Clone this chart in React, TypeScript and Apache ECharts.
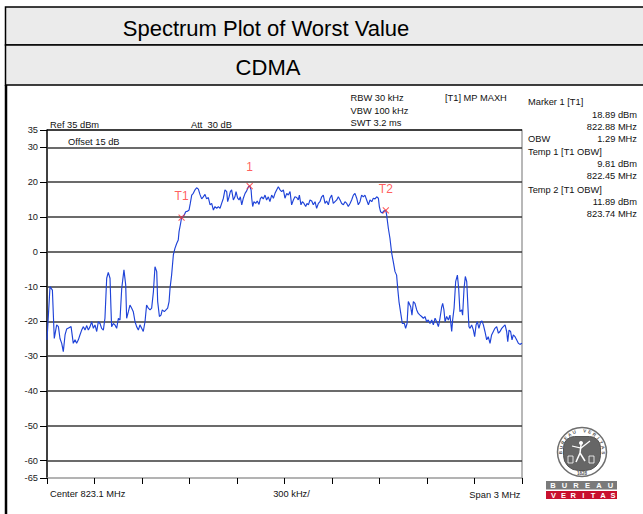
import React, { useEffect, useRef } from "react";
import * as echarts from "echarts";

// ---- data ----
const freqMHz = [
  821.600, 821.619, 821.634, 821.646, 821.661, 821.672, 821.682, 821.693, 821.703, 821.714,
  821.724, 821.739, 821.752, 821.766, 821.777, 821.787, 821.798, 821.808, 821.819, 821.830,
  821.840, 821.851, 821.861, 821.872, 821.882, 821.893, 821.903, 821.914, 821.924, 821.935,
  821.945, 821.956, 821.966, 821.977, 821.987, 821.998, 822.004, 822.008, 822.019, 822.029,
  822.040, 822.051, 822.061, 822.072, 822.086, 822.097, 822.103, 822.114, 822.124, 822.135,
  822.145, 822.156, 822.166, 822.177, 822.187, 822.198, 822.208, 822.219, 822.229, 822.240,
  822.251, 822.261, 822.272, 822.282, 822.293, 822.299, 822.310, 822.320, 822.328, 822.341,
  822.362, 822.371, 822.377, 822.387, 822.398, 822.408, 822.419, 822.429, 822.434, 822.444,
  822.450, 822.467, 822.476, 822.489, 822.497, 822.505, 822.514, 822.524, 822.535, 822.545,
  822.556, 822.566, 822.577, 822.587, 822.598, 822.608, 822.619, 822.630, 822.640, 822.651,
  822.661, 822.672, 822.682, 822.693, 822.703, 822.714, 822.724, 822.735, 822.741, 822.750,
  822.758, 822.766, 822.777, 822.787, 822.794, 822.804, 822.813, 822.821, 822.830, 822.840,
  822.851, 822.861, 822.872, 822.880, 822.889, 822.893, 822.899, 822.907, 822.918, 822.928,
  822.939, 822.947, 822.956, 822.966, 822.977, 822.987, 822.998, 823.008, 823.019, 823.030,
  823.040, 823.051, 823.061, 823.072, 823.082, 823.093,
  823.103, 823.114, 823.124, 823.135, 823.145, 823.156, 823.166, 823.177, 823.187, 823.194,
  823.204, 823.213, 823.223, 823.234, 823.242, 823.251, 823.261, 823.272, 823.282, 823.293,
  823.303, 823.314, 823.324, 823.335, 823.345, 823.356, 823.366, 823.377, 823.387, 823.398,
  823.408, 823.419, 823.430, 823.440, 823.451, 823.461, 823.472, 823.482, 823.493, 823.503,
  823.514, 823.524, 823.535, 823.545, 823.556, 823.566, 823.577, 823.587, 823.598, 823.608,
  823.619, 823.630, 823.640, 823.651, 823.661, 823.672, 823.682, 823.693, 823.699, 823.707,
  823.718, 823.726, 823.740, 823.745, 823.756, 823.766, 823.777, 823.787, 823.798, 823.808,
  823.815, 823.823, 823.836, 823.844, 823.857, 823.865, 823.874, 823.882,
  823.897, 823.905, 823.914, 823.924, 823.935, 823.945, 823.956, 823.966, 823.977, 823.987,
  823.998, 824.008, 824.019, 824.030, 824.040, 824.051, 824.061, 824.072, 824.082, 824.093,
  824.099, 824.107, 824.114, 824.124, 824.135, 824.145, 824.156, 824.162, 824.171, 824.181,
  824.192, 824.200, 824.208, 824.219, 824.225, 824.234, 824.242, 824.251, 824.259, 824.265,
  824.272, 824.282, 824.293, 824.301, 824.310, 824.318, 824.328, 824.339, 824.347, 824.356,
  824.366, 824.377, 824.387, 824.398, 824.408, 824.419, 824.429, 824.440, 824.451, 824.461,
  824.472, 824.482, 824.493, 824.503, 824.510, 824.518, 824.528, 824.537, 824.545, 824.556,
  824.566, 824.577, 824.587, 824.600,
];

const levelDbm = [
  -25.3, -10.0, -11.0, -24.9, -21.0, -21.5, -24.9, -26.3, -28.7, -23.9,
  -22.2, -21.8, -21.5, -26.3, -25.3, -26.3, -25.3, -23.9, -22.5, -21.5,
  -22.5, -21.2, -22.5, -21.5, -20.1, -22.0, -21.0, -22.9, -20.1, -20.6,
  -22.0, -22.5, -19.1, -7.6, -5.9, -7.6, -16.2, -21.5, -20.6, -21.0,
  -22.0, -19.1, -19.6, -10.5, -5.2, -9.5, -19.1, -17.2, -15.3, -16.2,
  -17.2, -20.1, -21.5, -22.5, -21.0, -22.0, -22.9, -20.1, -15.3, -16.2,
  -16.7, -16.2, -11.5, -4.3, -5.7, -14.3, -18.6, -18.2, -16.7, -17.2,
  -16.2, -14.3, -10.5, -6.7, -0.9, 1.0, 2.4, 3.4, 5.8, 8.2,
  9.81, 10.6, 11.5, 11.7, 12.0, 13.9, 16.3, 16.8, 17.8, 18.4,
  18.0, 16.5, 15.2, 15.8, 16.5, 15.2, 15.6, 13.5, 13.9, 12.0,
  13.0, 12.5, 13.0, 12.5, 13.9, 15.4, 17.8, 17.3, 14.4, 15.8,
  17.3, 17.8, 14.9, 15.8, 17.3, 15.4, 14.9, 15.8, 13.5, 15.4,
  16.8, 17.5, 18.7, 18.89, 17.8, 15.4, 13.0, 14.4, 13.9, 14.6,
  13.6, 15.2, 15.8, 15.2, 16.3, 14.9, 15.8, 14.4, 16.3, 15.4,
  16.8, 17.8, 18.7, 17.8, 17.3, 17.8,
  15.4, 16.8, 16.3, 17.3, 13.5, 14.9, 15.8, 15.6, 14.9, 16.3,
  13.5, 14.4, 13.9, 13.0, 13.9, 13.5, 14.9, 14.6, 13.5, 14.4,
  12.5, 13.9, 14.4, 15.8, 16.3, 13.9, 14.6, 13.5, 15.4, 16.3,
  13.9, 14.4, 14.9, 15.8, 14.9, 13.9, 13.5, 14.4, 13.9, 13.0,
  13.9, 14.9, 16.3, 16.8, 15.4, 13.5, 14.4, 16.3, 15.8, 16.3,
  14.9, 13.5, 14.9, 14.4, 15.4, 15.2, 15.8, 15.4, 13.0, 11.5,
  11.1, 11.7, 11.89, 10.6, 6.7, 3.9, -0.4, -2.8, -5.7, -6.7,
  -10.5, -14.3, -18.2, -20.6, -20.6, -22.0, -20.6, -14.3,
  -15.8, -18.2, -14.3, -14.8, -16.7, -17.7, -18.2, -18.6, -19.1, -18.6,
  -20.1, -19.6, -20.6, -19.6, -21.0, -19.1, -20.1, -21.5, -19.1, -15.8,
  -14.8, -16.7, -20.1, -18.6, -19.6, -18.2, -22.9, -19.6, -16.2, -8.6,
  -6.7, -10.5, -17.2, -16.7, -18.2, -10.5, -7.1, -8.6, -16.2, -21.5,
  -22.0, -21.0, -22.5, -24.4, -21.0, -20.1, -22.0, -20.1, -19.9, -21.0,
  -22.9, -25.3, -24.4, -26.3, -23.9, -22.9, -22.0, -21.5, -23.4, -22.9,
  -22.0, -21.5, -21.0, -22.9, -25.8, -22.5, -22.9, -25.3, -23.9, -24.4,
  -25.3, -26.3, -26.6, -26.3,
];

const centerMHz = 823.1;
const halfSpanKHz = 1500;
const divKHz = 300;
const refLevel = 35;
const bottomLevel = -65;
const yTickValues = [35, 30, 20, 10, 0, -10, -20, -30, -40, -50, -60, -65];
const gridLevels = [30, 20, 10, 0, -10, -20, -30, -40, -50, -60];

const markerNames = ["1", "T1", "T2"];
const markerFreqs = [822.88, 822.45, 823.74];
const markerLevels = [18.89, 9.81, 11.89];

const titleText = "Spectrum Plot of Worst Value";
const subTitleText = "CDMA";

const FONT = "'Liberation Sans', Arial, Helvetica, sans-serif";
const MARK_RED = "#ff3434";

function txt(text: string, x: number, y: number, align = "left", size = 9.3, fill = "#111", extra: any = {}) {
  return {
    type: "text",
    x,
    y,
    silent: true,
    z: 10,
    style: {
      text,
      fill,
      fontSize: size,
      fontFamily: FONT,
      textAlign: align,
      align,
      textVerticalAlign: "middle",
      verticalAlign: "middle",
      ...extra,
    },
  };
}

function logoElements(): any[] {
  const cx = 582;
  const cy = 452;
  const els: any[] = [];
  els.push({ type: "ellipse", shape: { cx, cy, rx: 24.5, ry: 24.5 }, style: { fill: "#fff", stroke: "#6e6e6e", lineWidth: 1.5 }, z: 5, silent: true });
  els.push({ type: "rect", shape: { x: 563.5, y: 436.5, width: 37, height: 34, r: [11, 11, 15, 15] }, style: { fill: "#666", stroke: "#555", lineWidth: 1 }, z: 6, silent: true });
  els.push({ type: "circle", shape: { cx: 581, cy: 443, r: 2 }, style: { fill: "#fff" }, z: 7, silent: true });
  els.push({ type: "polyline", shape: { points: [[581, 445], [580, 453], [576, 462]] }, style: { stroke: "#fff", lineWidth: 1.5, fill: "none" }, z: 7, silent: true });
  els.push({ type: "polyline", shape: { points: [[580, 453], [585, 461]] }, style: { stroke: "#fff", lineWidth: 1.5, fill: "none" }, z: 7, silent: true });
  els.push({ type: "polyline", shape: { points: [[572, 446], [581, 448], [590, 441]] }, style: { stroke: "#fff", lineWidth: 1.2, fill: "none" }, z: 7, silent: true });
  els.push({ type: "rect", shape: { x: 568, y: 456, width: 5, height: 7 }, style: { fill: "none", stroke: "#fff", lineWidth: 0.8 }, z: 7, silent: true });
  els.push({ type: "rect", shape: { x: 589, y: 456, width: 5, height: 7 }, style: { fill: "none", stroke: "#fff", lineWidth: 0.8 }, z: 7, silent: true });
  const ring = "BUREAU VERITAS";
  const r = 21.2;
  for (let i = 0; i < ring.length; i++) {
    const deg = 178 + (i * (362 - 178)) / (ring.length - 1);
    const th = (deg * Math.PI) / 180;
    els.push({
      type: "text",
      x: cx + r * Math.cos(th),
      y: cy + r * Math.sin(th),
      rotation: (-(deg - 270) * Math.PI) / 180,
      silent: true,
      z: 7,
      style: { text: ring[i], fill: "#555", fontSize: 4.6, fontWeight: "bold", fontFamily: FONT, textAlign: "center", align: "center", textVerticalAlign: "middle", verticalAlign: "middle" },
    });
  }
  els.push(txt("1828", cx, cy + 21.5, "center", 4.6, "#555", { fontWeight: "bold" }));
  els.push({ type: "rect", shape: { x: 546, y: 481, width: 71, height: 8.5 }, style: { fill: "#7a7a7a" }, z: 5, silent: true });
  els.push({ type: "rect", shape: { x: 546, y: 491, width: 71, height: 8 }, style: { fill: "#c8102e" }, z: 5, silent: true });
  const w1 = "BUREAU";
  for (let i = 0; i < w1.length; i++) {
    els.push(txt(w1[i], 553 + i * 11.5, 485.4, "center", 7.5, "#fff", { fontWeight: "bold" }));
  }
  const w2 = "VERITAS";
  for (let i = 0; i < w2.length; i++) {
    els.push(txt(w2[i], 553.5 + i * 9.9, 495.2, "center", 7.5, "#fff", { fontWeight: "bold" }));
  }
  return els;
}

export default function App() {
  const ref = useRef<HTMLDivElement>(null);

  useEffect(() => {
    document.body.style.margin = "0";
    if (!ref.current) return;
    const chart = echarts.init(ref.current, undefined, { renderer: "svg" });

    const trace = freqMHz.map((f, i) => [(f - centerMHz) * 1000, levelDbm[i]]);
    const markers = markerNames.map((n, i) => ({
      name: n,
      value: [(markerFreqs[i] - centerMHz) * 1000, markerLevels[i]],
      label: { distance: n === "1" ? 7.5 : 10 },
    }));

    const graphics: any[] = [
      { type: "rect", shape: { x: 5.5, y: 7, width: 720, height: 38 }, style: { fill: "#ebebeb", stroke: "#000", lineWidth: 1.5 }, z: 1, silent: true },
      { type: "rect", shape: { x: 5.5, y: 45, width: 720, height: 40 }, style: { fill: "#ebebeb", stroke: "#000", lineWidth: 1.5 }, z: 1, silent: true },
      { type: "line", shape: { x1: 6, y1: 85, x2: 6, y2: 520 }, style: { stroke: "#000", lineWidth: 2.5 }, z: 2, silent: true },
      txt(titleText, 266, 28, "center", 22, "#000"),
      txt(subTitleText, 268, 67, "center", 22, "#000"),
      txt("Ref 35 dBm", 50, 124.5),
      txt("Att  30 dB", 191, 124.5),
      txt("Offset 15 dB", 68, 142),
      txt("RBW 30 kHz", 350.5, 98),
      txt("VBW 100 kHz", 350.5, 110.5),
      txt("SWT 3.2 ms", 350.5, 123),
      txt("[T1] MP MAXH", 445, 98),
      txt("Marker 1 [T1]", 528, 102),
      txt("18.89 dBm", 637, 114.5, "right"),
      txt("822.88 MHz", 637, 127, "right"),
      txt("OBW", 528, 139),
      txt("1.29 MHz", 637, 139, "right"),
      txt("Temp 1 [T1 OBW]", 528, 151.5),
      txt("9.81 dBm", 637, 164, "right"),
      txt("822.45 MHz", 637, 176, "right"),
      txt("Temp 2 [T1 OBW]", 528, 189.5),
      txt("11.89 dBm", 637, 201.5, "right"),
      txt("823.74 MHz", 637, 213.5, "right"),
      txt("Center 823.1 MHz", 50, 494),
      txt("300 kHz/", 291.5, 494, "center"),
      txt("Span 3 MHz", 520.5, 494.5, "right"),
      ...logoElements(),
    ];

    chart.setOption({
      animation: false,
      backgroundColor: "#fff",
      textStyle: { fontFamily: FONT },
      grid: { left: 47, right: 121, top: 130, bottom: 36, containLabel: false, outerBoundsMode: "none" },
      xAxis: {
        type: "value",
        min: -halfSpanKHz,
        max: halfSpanKHz,
        interval: divKHz,
        axisLine: { show: true, onZero: false, lineStyle: { color: "#9a9a9a", width: 1.5 } },
        axisTick: { show: true, length: 6, lineStyle: { color: "#000", width: 1 } },
        axisLabel: { show: false },
        splitLine: { show: false },
      },
      yAxis: [
        {
          type: "value",
          min: bottomLevel,
          max: refLevel,
          position: "left",
          axisLine: { show: true, onZero: false, lineStyle: { color: "#000", width: 1.5 } },
          axisTick: { show: true, length: 7, customValues: yTickValues, lineStyle: { color: "#000", width: 1 } },
          axisLabel: { show: true, customValues: yTickValues, margin: 9, fontSize: 9.3, color: "#1a1a1a", fontFamily: FONT },
          splitLine: { show: false },
        },
        {
          type: "value",
          min: bottomLevel,
          max: refLevel,
          position: "right",
          axisLine: { show: true, onZero: false, lineStyle: { color: "#a0a0a0", width: 1.5 } },
          axisTick: { show: false },
          axisLabel: { show: false },
          splitLine: { show: false },
        },
      ],
      series: [
        {
          type: "line",
          data: trace,
          showSymbol: false,
          symbol: "none",
          z: 3,
          lineStyle: { color: "#1f43d8", width: 1.15 },
          silent: true,
          markLine: {
            silent: true,
            z: 1,
            symbol: ["none", "none"],
            label: { show: false },
            data: [
              ...gridLevels.map((v) => ({ yAxis: v, lineStyle: { color: "#3a3a3a", width: 1.5, type: "solid" } })),
              { yAxis: refLevel, lineStyle: { color: "#000", width: 1.5, type: "solid" } },
            ],
          },
        },
        {
          type: "scatter",
          z: 6,
          silent: true,
          symbol: "path://M0,0L10,10M10,0L0,10",
          symbolSize: 6,
          itemStyle: { color: "none", borderColor: MARK_RED, borderWidth: 1.1 },
          label: { show: true, position: "top", formatter: "{b}", color: MARK_RED, fontSize: 12, fontFamily: FONT },
          data: markers,
        },
      ],
      graphic: { elements: graphics },
    });

    return () => chart.dispose();
  }, []);

  return (
    <div style={{ position: "fixed", left: 0, top: 0, width: 643, height: 514, background: "#fff" }}>
      <div ref={ref} style={{ width: 643, height: 514 }} />
    </div>
  );
}
